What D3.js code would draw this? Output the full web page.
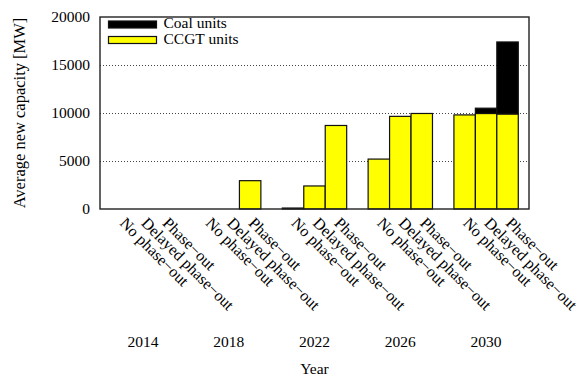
<!DOCTYPE html>
<html>
<head>
<meta charset="utf-8">
<script src="https://cdn.jsdelivr.net/npm/d3@7"></script>
<style>
  html, body { margin: 0; padding: 0; background: #fff; }
  svg { display: block; }
  text { font-family: "Liberation Serif", "Times New Roman", serif; fill: #000; }
</style>
</head>
<body>
<svg id="chart" width="581" height="378"></svg>
<script>
// Years on the x axis, and the three scenarios shown for each year
const years = ["2014", "2018", "2022", "2026", "2030"];
const scenarios = ["No phase\u2212out", "Delayed phase\u2212out", "Phase\u2212out"];

// Average new capacity [MW], one row per year, one value per scenario
const ccgtUnits = [
  [0, 0, 0],
  [0, 0, 2950],
  [0, 2400, 8700],
  [5200, 9650, 9950],
  [9800, 9950, 9900]
];
const coalUnits = [
  [0, 0, 0],
  [0, 0, 0],
  [100, 0, 0],
  [0, 0, 0],
  [0, 550, 7500]
];

const yTicks = [0, 5000, 10000, 15000, 20000];
const gridTicks = [5000, 10000, 15000];

const seriesNames = ["Coal units", "CCGT units"];
const seriesColors = { "Coal units": "#000000", "CCGT units": "#ffff00" };

const svg = d3.select("#chart");
const plot = { left: 100, right: 529, top: 17, bottom: 209 };

const x = d3.scaleBand()
  .domain(years)
  .range([plot.left, plot.right])
  .paddingInner(0.25)
  .paddingOuter(0.125);

const xInner = d3.scaleBand()
  .domain(scenarios)
  .range([0, x.bandwidth()])
  .padding(0);

const y = d3.scaleLinear()
  .domain([0, 20000])
  .range([plot.bottom, plot.top]);

// Dotted horizontal grid lines
svg.append("g")
  .selectAll("line")
  .data(gridTicks)
  .join("line")
  .attr("x1", plot.left)
  .attr("x2", plot.right)
  .attr("y1", d => Math.round(y(d)) + 0.5)
  .attr("y2", d => Math.round(y(d)) + 0.5)
  .attr("stroke", "#444")
  .attr("stroke-width", 1)
  .attr("stroke-dasharray", "1,2");

// Flatten into one record per bar, stacking coal on top of CCGT
const bars = [];
years.forEach((yr, i) => {
  scenarios.forEach((sc, j) => {
    const c = ccgtUnits[i][j];
    const k = coalUnits[i][j];
    bars.push({ year: yr, scenario: sc, series: "CCGT units", y0: 0, y1: c });
    bars.push({ year: yr, scenario: sc, series: "Coal units", y0: c, y1: c + k });
  });
});

svg.append("g")
  .selectAll("rect")
  .data(bars.filter(d => d.y1 > d.y0 || d.series === "CCGT units"))
  .join("rect")
  .attr("x", d => x(d.year) + xInner(d.scenario))
  .attr("width", xInner.bandwidth())
  .attr("y", d => y(d.y1))
  .attr("height", d => Math.max(0, y(d.y0) - y(d.y1)))
  .attr("fill", d => seriesColors[d.series])
  .attr("stroke", "#111")
  .attr("stroke-width", 1.2);

// Y axis labels
const yAxis = d3.axisLeft(y).tickValues(yTicks).tickSize(0).tickPadding(10).tickFormat(d3.format("d"));
const gy = svg.append("g")
  .attr("transform", `translate(${plot.left},0)`)
  .call(yAxis);
gy.select(".domain").remove();
gy.selectAll("text")
  .style("font-family", "'Liberation Serif', serif")
  .style("font-size", "15.5px");

// Scenario labels, rotated under each bar
const xLabels = [];
years.forEach(yr => scenarios.forEach(sc => xLabels.push({ year: yr, scenario: sc })));
svg.append("g")
  .selectAll("text")
  .data(xLabels)
  .join("text")
  .attr("transform", d => `translate(${x(d.year) + xInner(d.scenario) + xInner.bandwidth() / 2 - 2.5},224) rotate(45)`)
  .attr("text-anchor", "start")
  .style("font-size", "16px")
  .text(d => d.scenario);

// Year labels under each group
const xAxis = d3.axisBottom(x).tickSize(0).tickPadding(0);
const gx = svg.append("g")
  .call(xAxis);
gx.select(".domain").remove();
gx.selectAll("text")
  .attr("y", 346.5)
  .attr("dy", null)
  .style("font-family", "'Liberation Serif', serif")
  .style("font-size", "15.5px");

// Plot border
svg.append("rect")
  .attr("x", plot.left)
  .attr("y", plot.top)
  .attr("width", plot.right - plot.left)
  .attr("height", plot.bottom - plot.top)
  .attr("fill", "none")
  .attr("stroke", "#222")
  .attr("stroke-width", 1.4);

// Axis titles
svg.append("text")
  .attr("transform", `translate(25,${(plot.top + plot.bottom) / 2}) rotate(-90)`)
  .attr("text-anchor", "middle")
  .style("font-size", "16.5px")
  .text("Average new capacity [MW]");

svg.append("text")
  .attr("x", (plot.left + plot.right) / 2)
  .attr("y", 374)
  .attr("text-anchor", "middle")
  .style("font-size", "15.5px")
  .text("Year");

// Legend
const legend = svg.append("g");
seriesNames.forEach((name, i) => {
  const top = 21 + i * 15.5;
  legend.append("rect")
    .attr("x", 108.5)
    .attr("y", top)
    .attr("width", 48)
    .attr("height", 7)
    .attr("fill", seriesColors[name])
    .attr("stroke", "#111")
    .attr("stroke-width", 1.2);
  legend.append("text")
    .attr("x", 163.5)
    .attr("y", 28 + i * 15.5)
    .style("font-size", "15.5px")
    .text(name);
});
</script>
</body>
</html>
